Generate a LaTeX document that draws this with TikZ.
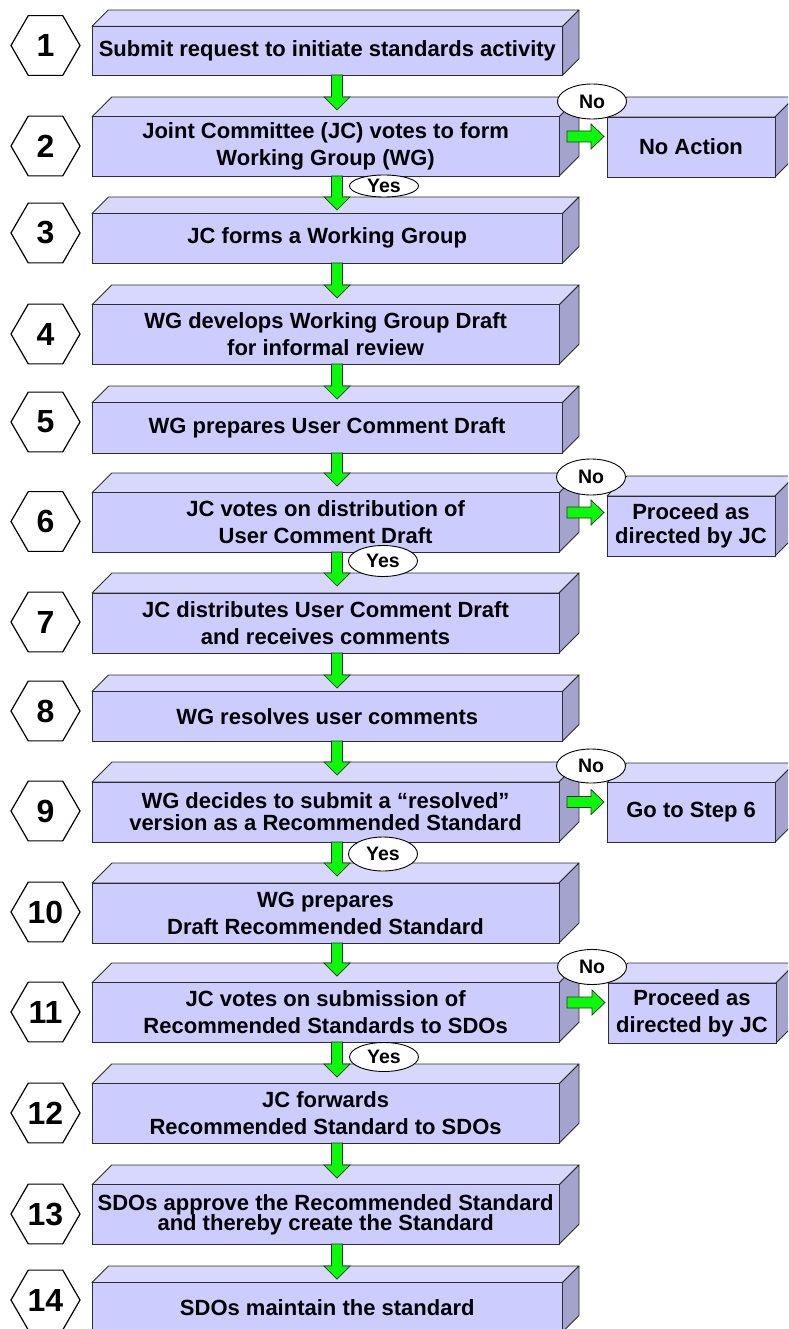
\documentclass[tikz,border=0pt]{standalone}
\usepackage{fontspec}
\setmainfont{Liberation Sans}
\usetikzlibrary{calc,shapes.geometric}
\definecolor{frontc}{RGB}{204,204,255}
\definecolor{topc}{RGB}{216,216,255}
\definecolor{sidec}{RGB}{163,163,206}
\definecolor{arrowc}{RGB}{10,250,10}
\definecolor{edgec}{RGB}{45,45,45}

\newcommand{\stepcube}[6]{%
\pgfmathsetmacro{\dd}{0.25*(#5-#4)}
\filldraw[edgec,fill=topc,line width=0.9pt,line join=round] (#2,#4+\dd) -- (#2+\dd,#4) -- (#3,#4) -- (#3-\dd,#4+\dd) -- cycle;
\filldraw[edgec,fill=sidec,line width=0.9pt,line join=round] (#3-\dd,#4+\dd) -- (#3,#4) -- (#3,#5-\dd) -- (#3-\dd,#5) -- cycle;
\node[face,minimum width={(#3-#2-\dd)*1pt},minimum height={(#5-#4-\dd)*1pt}] (#1) at ({(#2+#3-\dd)/2},{(#4+\dd+#5)/2}) {#6};
\coordinate (#1-in) at (337,#4);
\coordinate (#1-out) at (337,#5);
\coordinate (#1-r) at (#3-12,{(#4+#5)/2});
\coordinate (#1-l) at (#2-3,{(#4+#5)/2});
}
\newcommand{\greendown}[2]{%
\filldraw[arrowbody] let \p1=(#1-out), \p2=(#2-in) in
({\x1-5.5pt},\y1) -- ({\x1+5.5pt},\y1) -- ({\x1+5.5pt},\y2) -- ({\x1+13pt},\y2) -- (\x1,{\y2-13pt}) -- ({\x1-13pt},\y2) -- ({\x1-5.5pt},\y2) -- cycle;
}
\newcommand{\greenright}[2]{%
\filldraw[arrowbody] let \p1=(#1-r), \p2=(#2-l) in
(\x1,{\y1+5.5pt}) -- ({\x2-13pt},{\y1+5.5pt}) -- ({\x2-13pt},{\y1+12.5pt}) -- (\x2,\y1) -- ({\x2-13pt},{\y1-12.5pt}) -- ({\x2-13pt},{\y1-5.5pt}) -- (\x1,{\y1-5.5pt}) -- cycle;
}

\begin{document}
\begin{tikzpicture}[x=1pt,y=-1pt,
  face/.style={draw=edgec,fill=frontc,line width=0.9pt,inner sep=0pt,align=center,font=\fontsize{22}{27}\selectfont\bfseries},
  hexa/.style={regular polygon,regular polygon sides=6,draw=black,fill=white,line width=1.2pt,minimum size=69pt,inner sep=0pt,font=\fontsize{32}{32}\selectfont\bfseries},
  arrowbody/.style={draw=edgec,fill=arrowc,line width=0.7pt,line join=miter},
  answer/.style={ellipse,draw=black,fill=white,line width=0.9pt,inner sep=0pt,minimum width=69pt,font=\fontsize{19.5}{19.5}\selectfont\bfseries}]
\useasboundingbox (0,0) rectangle (788,1329);
\clip (0,0) rectangle (788,1329);

\stepcube{s1}{92}{579}{10}{75}{Submit request to initiate standards activity}
\stepcube{s2}{92}{579}{97}{176}{Joint Committee (JC) votes to form\\Working Group (WG)}
\stepcube{s3}{92}{579}{197}{263}{JC forms a Working Group}
\stepcube{s4}{92}{579}{285}{364}{WG develops Working Group Draft\\for informal review}
\stepcube{s5}{92}{579}{386}{453}{WG prepares User Comment Draft}
\stepcube{s6}{92}{579}{473}{552}{JC votes on distribution of\\User Comment Draft}
\stepcube{s7}{92}{579}{573}{653}{JC distributes User Comment Draft\\and receives comments}
\stepcube{s8}{92}{579}{675}{741}{WG resolves user comments}
\stepcube{s9}{92}{579}{762}{842}{WG decides to submit a “resolved”\\[-5pt]version as a Recommended Standard}
\stepcube{s10}{92}{579}{863}{943}{WG prepares\\Draft Recommended Standard}
\stepcube{s11}{92}{579}{963}{1042}{JC votes on submission of\\Recommended Standards to SDOs}
\stepcube{s12}{92}{579}{1064}{1143}{JC forwards\\Recommended Standard to SDOs}
\stepcube{s13}{92}{579}{1165}{1244}{SDOs approve the Recommended Standard\\[-7pt]and thereby create the Standard}
\stepcube{s14}{92}{579}{1266}{1332}{SDOs maintain the standard}

\stepcube{n2}{607}{795}{97}{177}{No Action}
\stepcube{n6}{607}{795}{476}{556}{Proceed as\\[-3pt]directed by JC}
\stepcube{n9}{607}{795}{763}{842}{Go to Step 6}
\stepcube{n11}{608}{796}{963}{1043}{Proceed as\\directed by JC}

\node[hexa] (h1) at (45.5,45.5) {1};
\node[hexa] (h2) at (45.5,146) {2};
\node[hexa] (h3) at (45.5,233) {3};
\node[hexa] (h4) at (45.5,334) {4};
\node[hexa] (h5) at (45.5,422) {5};
\node[hexa] (h6) at (45.5,521.5) {6};
\node[hexa] (h7) at (45.5,622) {7};
\node[hexa] (h8) at (45.5,711) {8};
\node[hexa] (h9) at (45.5,811) {9};
\node[hexa] (h10) at (45.5,912) {10};
\node[hexa] (h11) at (45.5,1012) {11};
\node[hexa] (h12) at (45.5,1113) {12};
\node[hexa] (h13) at (45.5,1214) {13};
\node[hexa] (h14) at (45.5,1300) {14};

\greendown{s1}{s2}
\greendown{s2}{s3}
\greendown{s3}{s4}
\greendown{s4}{s5}
\greendown{s5}{s6}
\greendown{s6}{s7}
\greendown{s7}{s8}
\greendown{s8}{s9}
\greendown{s9}{s10}
\greendown{s10}{s11}
\greendown{s11}{s12}
\greendown{s12}{s13}
\greendown{s13}{s14}

\greenright{s2}{n2}
\greenright{s6}{n6}
\greenright{s9}{n9}
\greenright{s11}{n11}

\node[answer,minimum height=22pt] (y2) at (384,186) {Yes};
\node[answer,minimum height=31pt] (y6) at (383,561) {Yes};
\node[answer,minimum height=34pt] (y9) at (383,854) {Yes};
\node[answer,minimum height=29pt] (y11) at (384,1057) {Yes};
\node[answer,minimum height=35pt] (o2) at (592,101.5) {No};
\node[answer,minimum height=36pt] (o6) at (591,477) {No};
\node[answer,minimum height=34pt] (o9) at (591,766) {No};
\node[answer,minimum height=35pt] (o11) at (592,967) {No};
\end{tikzpicture}
\end{document}
